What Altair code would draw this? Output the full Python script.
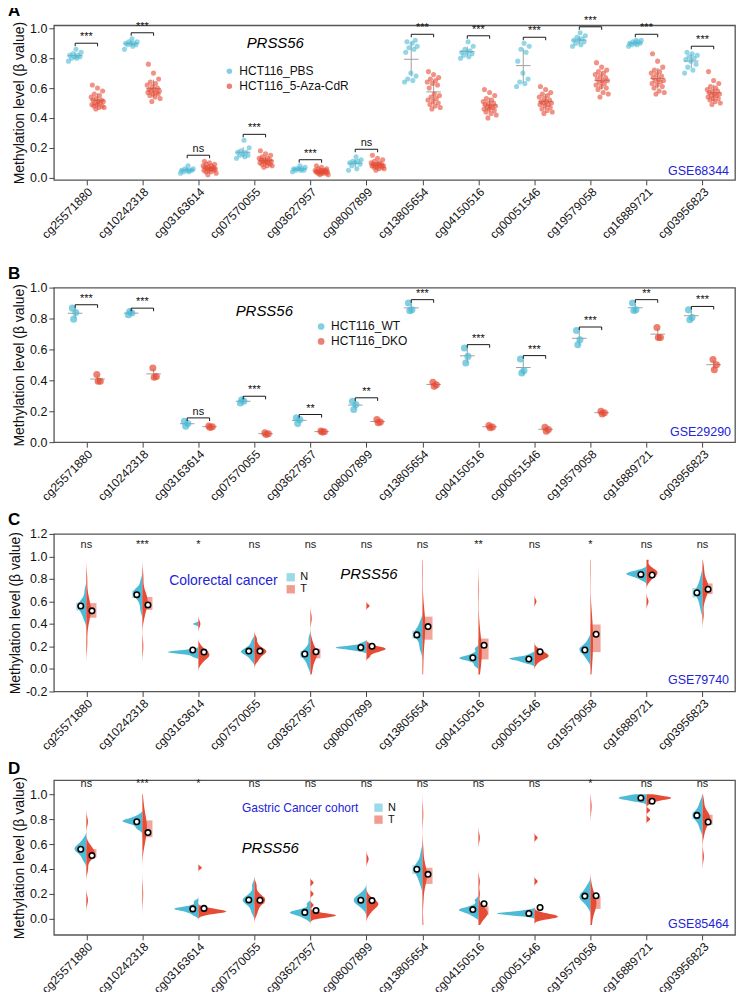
import altair as alt
import pandas as pd

# ---------------- data ----------------
CPGS = ["cg25571880", "cg10242318", "cg03163614", "cg07570055", "cg03627957", "cg08007899",
        "cg13805654", "cg04150516", "cg00051546", "cg19579058", "cg16889721", "cg03956823"]

# Panel A (GSE68344), beta x 100
A_PBS = [
    [78, 80, 80, 81, 81, 82, 82, 83, 84, 86],
    [86, 88, 89, 89, 90, 90, 90, 91, 91, 93],
    [3, 4, 4, 5, 5, 5, 5, 6, 6, 8],
    [13, 14, 15, 15, 16, 17, 17, 18, 20, 25],
    [4, 5, 5, 5, 6, 6, 6, 6, 7, 8],
    [5, 6, 8, 9, 10, 10, 11, 11, 12, 14],
    [64, 65, 66, 68, 70, 84, 86, 87, 88, 90, 91, 92],
    [80, 81, 82, 83, 84, 84, 85, 86, 88, 91],
    [61, 63, 64, 66, 70, 78, 84, 86, 88, 90],
    [88, 89, 90, 91, 92, 92, 93, 94, 95, 97],
    [88, 89, 89, 90, 90, 90, 91, 91, 92, 92],
    [70, 72, 74, 76, 78, 79, 80, 81, 82, 83, 84],
]
A_AZA = [
    [46, 47, 47, 48, 48, 49, 49, 50, 50, 51, 51, 52, 52, 53, 54, 55, 56, 58, 60, 62],
    [51, 53, 54, 55, 56, 56, 57, 57, 58, 58, 59, 59, 60, 61, 62, 63, 64, 66, 70, 76],
    [2, 3, 4, 4, 5, 5, 5, 6, 6, 6, 6, 7, 7, 7, 8, 8, 9, 9, 10, 11],
    [7, 8, 8, 9, 9, 10, 10, 10, 11, 11, 11, 12, 12, 12, 13, 13, 14, 15, 16, 18],
    [2, 2, 3, 3, 3, 3, 4, 4, 4, 4, 4, 4, 5, 5, 5, 5, 6, 6, 7, 8],
    [5, 6, 6, 7, 7, 7, 8, 8, 8, 8, 9, 9, 9, 9, 10, 10, 11, 12, 13, 15],
    [46, 47, 48, 49, 50, 51, 52, 53, 54, 55, 56, 60, 62, 63, 64, 65, 66, 67, 69, 71],
    [40, 42, 43, 44, 45, 46, 46, 47, 47, 48, 48, 49, 50, 50, 51, 52, 53, 55, 57, 59],
    [43, 44, 45, 46, 47, 48, 49, 49, 50, 50, 51, 51, 52, 53, 54, 55, 56, 57, 59, 61],
    [54, 56, 57, 59, 60, 61, 62, 63, 64, 65, 65, 66, 67, 68, 69, 70, 71, 72, 74, 77],
    [56, 57, 58, 60, 61, 62, 63, 64, 65, 65, 66, 67, 68, 69, 70, 71, 72, 74, 78, 83],
    [49, 50, 51, 52, 53, 53, 54, 55, 55, 56, 56, 57, 58, 58, 59, 60, 61, 63, 65, 71],
]
A_SIG = ["***", "***", "ns", "***", "***", "ns", "***", "***", "***", "***", "***", "***"]

# Panel B (GSE29290), beta x 1000
B_WT = [
    [867, 839, 796], [824, 835, 845], [135, 120, 103], [254, 265, 275],
    [157, 146, 120], [265, 243, 211], [900, 856, 850], [609, 555, 512],
    [538, 463, 448], [723, 663, 630], [900, 856, 852], [856, 806, 792],
]
B_DKO = [
    [437, 394, 394], [480, 425, 420], [105, 100, 95], [60, 55, 50],
    [72, 68, 65], [146, 131, 125], [387, 372, 361], [108, 98, 93],
    [97, 82, 71], [200, 190, 183], [742, 677, 677], [534, 501, 469],
]
B_SIG = ["***", "***", "ns", "***", "**", "**", "***", "***", "***", "***", "**", "***"]

# Panel C (GSE79740), beta x 100
C_N = [
    [44, 48, 51, 53, 55, 56, 57, 58, 60, 63, 70],
    [52, 58, 62, 64, 66, 67, 68, 69, 70, 72, 78],
    [11, 13, 14, 14, 15, 15, 15, 16, 16, 17, 40],
    [8, 11, 13, 14, 15, 16, 16, 17, 19, 21, 25],
    [2, 6, 9, 11, 12, 13, 14, 15, 17, 20, 27],
    [16, 17, 18, 18, 19, 19, 19, 20, 20, 21, 23],
    [17, 21, 26, 28, 30, 31, 32, 33, 35, 38, 42],
    [3, 6, 8, 9, 9, 10, 10, 11, 12, 14, 18],
    [5, 6, 7, 8, 9, 9, 9, 10, 10, 11, 13],
    [8, 11, 13, 15, 16, 17, 18, 19, 20, 22, 26],
    [79, 81, 82, 83, 84, 84, 85, 85, 86, 87, 88],
    [53, 58, 62, 65, 67, 68, 69, 71, 73, 77, 82],
]
C_T = [
    [22, 36, 44, 47, 50, 52, 54, 57, 60, 66, 80],
    [20, 45, 51, 54, 57, 59, 61, 63, 65, 69, 82],
    [5, 8, 10, 11, 12, 13, 14, 15, 17, 20, 40],
    [7, 10, 12, 14, 15, 16, 16, 17, 19, 22, 27],
    [-2, 4, 8, 11, 12, 14, 15, 17, 19, 25, 45],
    [11, 14, 15, 16, 17, 17, 18, 18, 19, 19, 20, 22, 56],
    [-3, 12, 24, 28, 33, 38, 41, 45, 48, 60, 88],
    [-5, 3, 7, 10, 14, 18, 21, 25, 29, 40, 70],
    [5, 8, 9, 10, 11, 11, 12, 12, 13, 14, 15, 16, 18, 60],
    [0, 7, 13, 17, 22, 28, 33, 37, 42, 50, 90],
    [60, 78, 81, 83, 84, 85, 86, 87, 88, 90, 97],
    [48, 60, 65, 68, 70, 72, 73, 75, 77, 82, 90],
]
C_SIG = ["ns", "***", "*", "ns", "ns", "ns", "ns", "**", "ns", "*", "ns", "ns"]

# Panel D (GSE85464), beta x 100
D_N = [
    [47, 50, 53, 54, 55, 56, 57, 58, 59, 61, 64],
    [72, 74, 76, 77, 78, 78, 79, 79, 80, 81, 83],
    [3, 5, 6, 7, 8, 8, 8, 9, 9, 11, 14],
    [5, 9, 12, 13, 14, 15, 16, 17, 18, 21, 27],
    [0, 2, 3, 4, 5, 5, 5, 6, 7, 8, 12],
    [8, 11, 12, 13, 14, 15, 16, 17, 18, 19, 22],
    [28, 32, 35, 37, 39, 40, 41, 42, 44, 47, 53],
    [2, 4, 5, 6, 7, 7, 8, 8, 9, 11, 15],
    [2, 3, 3, 4, 4, 4, 5, 5, 5, 6, 7],
    [10, 13, 15, 16, 17, 18, 19, 20, 22, 24, 27],
    [94, 95, 96, 96, 97, 97, 98, 98, 99, 100],
    [72, 76, 79, 81, 82, 83, 84, 85, 87, 90, 94],
]
D_T = [
    [15, 40, 48, 50, 51, 52, 53, 55, 57, 59, 78],
    [20, 58, 64, 67, 70, 72, 75, 78, 80, 84, 93],
    [3, 4, 5, 5, 5, 6, 6, 6, 6, 7, 7, 8, 8, 9, 41],
    [4, 8, 11, 13, 14, 15, 16, 17, 18, 21, 27],
    [1, 2, 2, 2, 3, 3, 3, 3, 4, 5, 11, 20, 29],
    [4, 7, 9, 10, 11, 12, 13, 14, 15, 18, 48],
    [-4, 15, 26, 30, 33, 35, 37, 40, 42, 55, 84],
    [-3, 1, 2, 3, 4, 5, 6, 7, 8, 10, 20, 30, 65],
    [0, 0, 1, 1, 2, 2, 2, 3, 3, 4, 5, 30, 65],
    [-5, 3, 7, 9, 11, 13, 15, 17, 19, 25, 90],
    [80, 87, 93, 95, 96, 96, 97, 97, 97, 98, 98, 99],
    [50, 68, 74, 77, 78, 80, 81, 83, 84, 86, 94],
]
D_SIG = ["ns", "***", "*", "ns", "ns", "ns", "ns", "ns", "ns", "*", "ns", "ns"]

# ---------------- style ----------------
FONT = "Liberation Sans"
BLUE = "#4DBBD5"
RED = "#E64B35"
NAVY = "#2323D8"
W = 683
XDOM = [-0.58, 11.58]
K = 0.0265  # violin half-width per density unit (x index units)

LABEL_EXPR = "[" + ",".join("'%s'" % c for c in CPGS) + "][datum.value]"
Y_LABEL_EXPR = "datum.value < 0 ? '-' + format(-datum.value, '.1f') : format(datum.value, '.1f')"


def x_axis(extra_title=False):
    kw = dict(values=list(range(12)), labelExpr=LABEL_EXPR, labelAngle=-45, labelAlign="right",
              labelBaseline="top", grid=False, tickSize=5, labelFontSize=12, labelPadding=1,
              labelFont=FONT, labelColor="#111", tickColor="#444", domain=False,
              labelOverlap=False, labelFlush=False, labelBound=False)
    if extra_title:
        kw.update(title=" ", titleFontSize=14, titlePadding=2)
    else:
        kw.update(title=None)
    return alt.Axis(**kw)


def y_axis(vals):
    return alt.Axis(values=vals, labelExpr=Y_LABEL_EXPR, title="Methylation level (β value)",
                    titleFontSize=14, titleFont=FONT, titleFontWeight="normal", titleColor="#111",
                    labelFontSize=12.5, labelFont=FONT, labelColor="#111", grid=False, tickSize=5,
                    tickColor="#444", domain=False, titlePadding=3, labelPadding=2)


def text_layer(txt, px, py, size, color="black", style="normal", align="center", baseline="middle",
               weight="normal"):
    return alt.Chart(pd.DataFrame({"t": [txt]})).mark_text(
        font=FONT, fontSize=size, fontStyle=style, color=color, align=align, baseline=baseline,
        fontWeight=weight
    ).encode(x=alt.value(px), y=alt.value(py), text="t:N")


def letter_layer(t, y=-9):
    return text_layer(t, -46, y, 17, align="left", baseline="alphabetic", weight="bold")


def dot_panel(blue, red, scale_div, sig, names, letter, ydom, yvals, H, jit, off, psize, popac,
              pad, tick, leg, prss_xy, gse, gse_xy, extra_title=False):
    rows = []
    for i in range(12):
        for g, lists, o, ph in ((names[0], blue, -off, 0.0), (names[1], red, off, 0.37)):
            for k, v in enumerate(lists[i]):
                j = (((k * 0.6180339887 + ph) % 1.0) - 0.5) * 2 * jit
                rows.append({"idx": i, "grp": g, "v": v / scale_div, "xp": i + o + j, "xc": i + o,
                             "sig": sig[i]})
    df = pd.DataFrame(rows)
    base = alt.Chart(df)
    xs = alt.Scale(domain=XDOM, nice=False, zero=False)
    ys = alt.Scale(domain=ydom, nice=False, zero=False)
    xa = x_axis(extra_title)
    ya = y_axis(yvals)

    def X(f):
        return alt.X(f, type="quantitative", scale=xs, axis=xa)

    def Y(f):
        return alt.Y(f, type="quantitative", scale=ys, axis=ya)

    stats = base.transform_aggregate(
        m="mean(v)", s="stdev(v)", groupby=["idx", "grp", "xc"]
    ).transform_calculate(
        xl="datum.xc - 0.13", xr="datum.xc + 0.13", lo="datum.m - datum.s", hi="datum.m + datum.s"
    )
    mean_rule = stats.mark_rule(color="#a0a0a0", strokeWidth=1).encode(x=X("xl"), x2="xr", y=Y("m"))
    sd_rule = stats.mark_rule(color="#a0a0a0", strokeWidth=1).encode(x=X("xc"), y=Y("lo"), y2="hi")

    pts = base.mark_circle(size=psize, opacity=popac).encode(
        x=X("xp"), y=Y("v"),
        color=alt.Color("grp:N", scale=alt.Scale(domain=names, range=[BLUE, RED]),
                        legend=alt.Legend(title=None, orient="none", symbolType="circle",
                                          labelFont=FONT, labelColor="#111", **leg)),
    )

    br = base.transform_aggregate(mx="max(v)", groupby=["idx", "sig"]).transform_calculate(
        xl="datum.idx - %f" % off, xr="datum.idx + %f" % off,
        yb="datum.mx + %f" % pad, yt="datum.mx + %f" % (pad - tick),
    )
    hline = br.mark_rule(color="black", strokeWidth=0.9).encode(x=X("xl"), x2="xr", y=Y("yb"))
    lt = br.mark_rule(color="black", strokeWidth=0.9).encode(x=X("xl"), y=Y("yb"), y2="yt")
    rt = br.mark_rule(color="black", strokeWidth=0.9).encode(x=X("xr"), y=Y("yb"), y2="yt")
    st = br.mark_text(font=FONT, fontSize=11, baseline="bottom", dy=-1, color="#111").encode(
        x=X("idx"), y=Y("yb"), text="sig:N")

    prss = text_layer("PRSS56", prss_xy[0], prss_xy[1], 15, style="italic")
    g = text_layer(gse, gse_xy[0], gse_xy[1], 12.5, color=NAVY, align="right", baseline="alphabetic")

    return alt.layer(mean_rule, sd_rule, pts, hline, lt, rt, st, prss, g, letter_layer(letter)).properties(
        width=W, height=H)


def violin_panel(nl, tl, sig, letter, ydom, yvals, H, sig_y, leg, cohort, cohort_xy, cohort_size,
                 prss_xy, gse, gse_xy, letter_y=-9):
    rows = []
    for i in range(12):
        for g, lists in (("N", nl), ("T", tl)):
            for v in lists[i]:
                rows.append({"idx": i, "grp": g, "v": v / 100})
    df = pd.DataFrame(rows)
    base = alt.Chart(df)
    xs = alt.Scale(domain=XDOM, nice=False, zero=False)
    ys = alt.Scale(domain=ydom, nice=False, zero=False)
    xa = x_axis()
    ya = y_axis(yvals)

    def X(f):
        return alt.X(f, type="quantitative", scale=xs, axis=xa)

    def Y(f):
        return alt.Y(f, type="quantitative", scale=ys, axis=ya)

    color = alt.Color("grp:N", scale=alt.Scale(domain=["N", "T"], range=[BLUE, RED]),
                      legend=alt.Legend(title=None, orient="none", symbolType="square",
                                        labelFont=FONT, labelColor="#111", symbolOpacity=0.55,
                                        symbolStrokeWidth=0, **leg))

    boxes = base.transform_aggregate(
        q1="q1(v)", q3="q3(v)", groupby=["idx", "grp"]
    ).transform_calculate(
        bx1="datum.idx + (datum.grp == 'N' ? -0.18 : 0.18)"
    ).mark_rect(opacity=0.5).encode(x=X("idx"), x2="bx1", y=Y("q1"), y2="q3", color=color)

    vio = base.transform_density(
        "v", groupby=["idx", "grp"], as_=["val", "dens"], minsteps=60
    ).transform_calculate(
        xd="datum.idx + (datum.grp == 'N' ? -1 : 1) * datum.dens * %f" % K
    ).mark_area(orient="horizontal", clip=True).encode(
        y=Y("val"), x=X("xd"), x2="idx", color=color, detail="idx:N")

    circ = base.transform_aggregate(m="mean(v)", groupby=["idx", "grp"]).transform_calculate(
        cx="datum.idx + (datum.grp == 'N' ? -0.1 : 0.1)"
    ).mark_point(filled=True, fill="white", stroke="black", strokeWidth=1.6, size=30, opacity=1).encode(
        x=X("cx"), y=Y("m"))

    sdf = pd.DataFrame({"idx": list(range(12)), "sig": sig})
    st = alt.Chart(sdf).mark_text(font=FONT, fontSize=11, color="#222", baseline="middle").encode(
        x=X("idx"), y=alt.value(sig_y), text="sig:N")

    coh = text_layer(cohort, cohort_xy[0], cohort_xy[1], cohort_size, color=NAVY)
    prss = text_layer("PRSS56", prss_xy[0], prss_xy[1], 15, style="italic")
    g = text_layer(gse, gse_xy[0], gse_xy[1], 12.5, color=NAVY, align="right", baseline="alphabetic")

    return alt.layer(boxes, vio, circ, st, coh, prss, g, letter_layer(letter, letter_y)).properties(
        width=W, height=H)


pA = dot_panel(A_PBS, A_AZA, 100, A_SIG, ["HCT116_PBS", "HCT116_5-Aza-CdR"], "A",
               [-0.015, 1.02], [0, 0.2, 0.4, 0.6, 0.8, 1.0], 155, 0.12, 0.2, 26, 0.6,
               0.04, 0.02,
               dict(legendX=170, legendY=40, labelFontSize=12, symbolSize=30, rowPadding=3, symbolOpacity=0.7),
               (222, 18), "GSE68344", (677, 150), extra_title=True)

pB = dot_panel(B_WT, B_DKO, 1000, B_SIG, ["HCT116_WT", "HCT116_DKO"], "B",
               [0, 1.0], [0, 0.2, 0.4, 0.6, 0.8, 1.0], 155, 0.05, 0.2, 50, 0.7,
               0.022, 0.02,
               dict(legendX=262, legendY=33, labelFontSize=12, symbolSize=45, rowPadding=3, symbolOpacity=0.7),
               (211, 23), "GSE29290", (679, 149))

pC = violin_panel(C_N, C_T, C_SIG, "C", [-0.2, 1.2], [-0.2, 0, 0.2, 0.4, 0.6, 0.8, 1.0, 1.2], 158, 11,
                  dict(legendX=232, legendY=38, labelFontSize=11, symbolSize=70, rowPadding=0),
                  "Colorectal cancer", (170, 47), 14, (316, 40), "GSE79740", (677, 150))

pD = violin_panel(D_N, D_T, D_SIG, "D", [-0.128, 1.112], [0, 0.2, 0.4, 0.6, 0.8, 1.0], 155, 4,
                  dict(legendX=320, legendY=22, labelFontSize=11, symbolSize=70, rowPadding=0),
                  "Gastric Cancer cohort", (247, 28), 12, (217, 68), "GSE85464", (677, 148), letter_y=-6)

chart = alt.vconcat(pA, pB, pC, pD, spacing=6).resolve_scale(
    x="independent", y="independent", color="independent"
).resolve_legend(color="independent").properties(
    padding={"left": -1, "top": -8, "right": 0, "bottom": 0}
).configure(font=FONT, background="white").configure_view(stroke="#555", strokeWidth=1.3)

chart.save("out.html", embed_options={"renderer": "svg", "actions": False})
